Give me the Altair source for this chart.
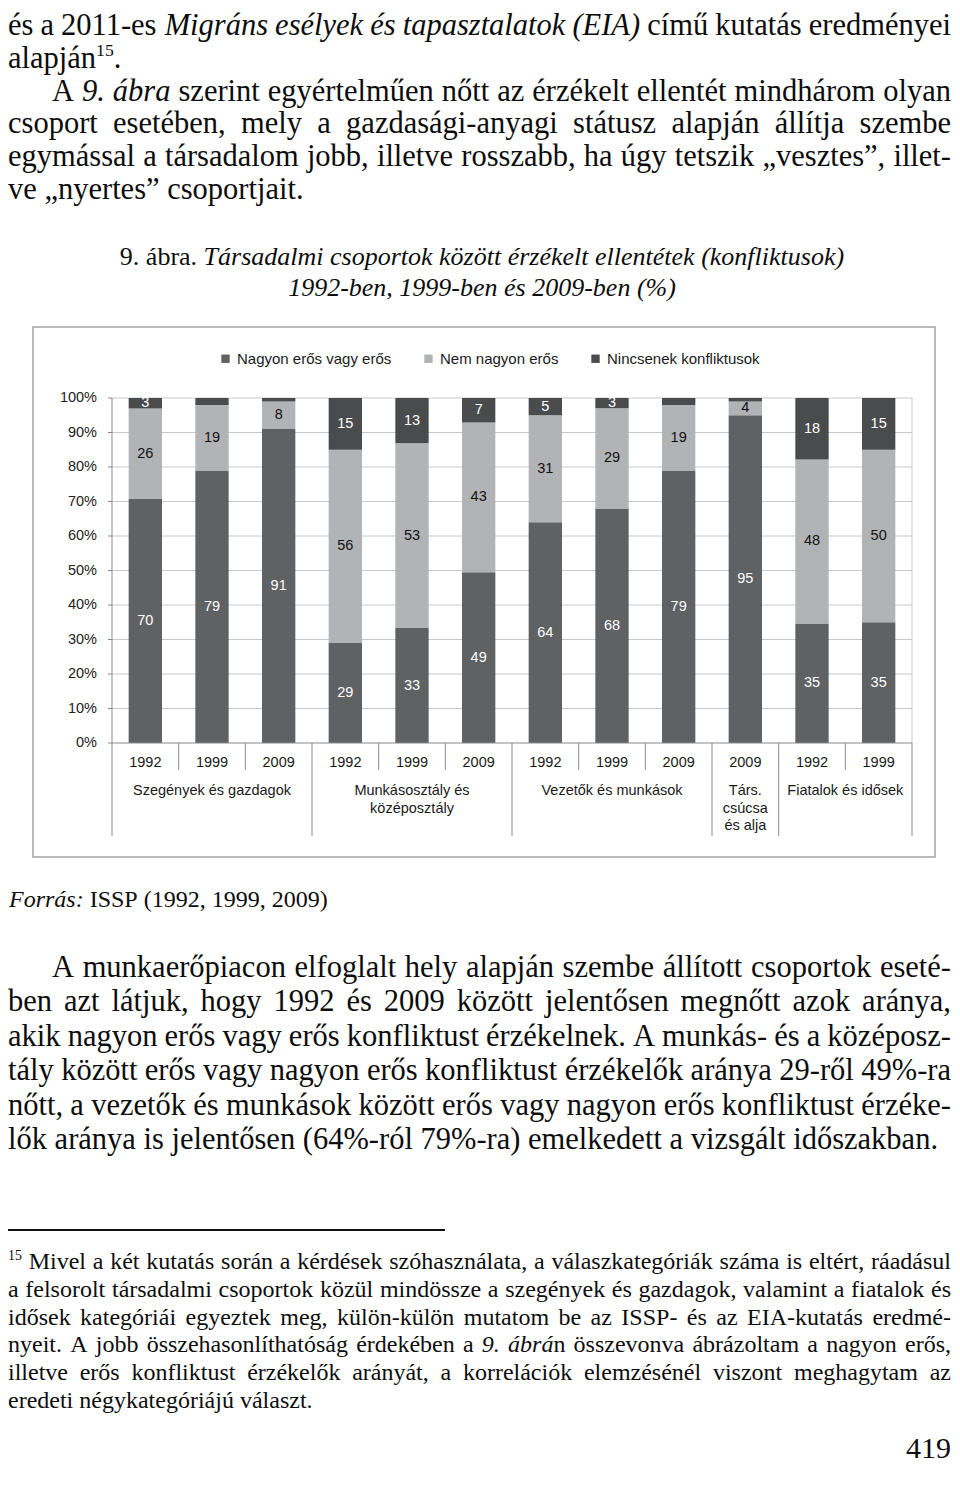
import unicodedata
import altair as alt
import pandas as pd

OFF = 8


def P(v):
    return v - OFF


# ------------------------------------------------------------------ chart data
years = ["1992", "1999", "2009", "1992", "1999", "2009", "1992", "1999", "2009", "2009", "1992", "1999"]
strong = [70, 79, 91, 29, 33, 49, 64, 68, 79, 95, 35, 35]      # Nagyon erős vagy erős
notvery = [26, 19, 8, 56, 53, 43, 31, 29, 19, 4, 48, 50]       # Nem nagyon erős
noconf = [3, 2, 1, 15, 13, 7, 5, 3, 2, 1, 18, 15]              # Nincsenek konfliktusok
series = ["Nagyon erős vagy erős", "Nem nagyon erős", "Nincsenek konfliktusok"]
series_colors = ["#606163", "#b2b3b5", "#4a4b4d"]
group_labels = ["Szegények és gazdagok", "Munkásosztály és\nközéposztály", "Vezetők és munkások",
                "Társ.\ncsúcsa\nés alja", "Fiatalok és idősek"]
group_sizes = [3, 3, 3, 1, 2]
ytick_values = [0, 0.1, 0.2, 0.3, 0.4, 0.5, 0.6, 0.7, 0.8, 0.9, 1.0]
ytick_labels = ["0%", "10%", "20%", "30%", "40%", "50%", "60%", "70%", "80%", "90%", "100%"]

# ------------------------------------------------------------------ page text
para1 = [
    ("és a 2011-es *Migráns esélyek és tapasztalatok (EIA)* című kutatás eredményei", "J", 0),
    ("alapján^15^.", "L", 0),
    ("A *9. ábra* szerint egyértelműen nőtt az érzékelt ellentét mindhárom olyan", "J", 44),
    ("csoport esetében, mely a gazdasági-anyagi státusz alapján állítja szembe", "J", 0),
    ("egymással a társadalom jobb, illetve rosszabb, ha úgy tetszik „vesztes”, illet-", "J", 0),
    ("ve „nyertes” csoportjait.", "L", 0),
]
caption = [
    ("9. ábra. *Társadalmi csoportok között érzékelt ellentétek (konfliktusok)*", "C", 0),
    ("*1992-ben, 1999-ben és 2009-ben (%)*", "C", 0),
]
source = [("*Forrás:* ISSP (1992, 1999, 2009)", "L", 0)]
para2 = [
    ("A munkaerőpiacon elfoglalt hely alapján szembe állított csoportok eseté-", "J", 44),
    ("ben azt látjuk, hogy 1992 és 2009 között jelentősen megnőtt azok aránya,", "J", 0),
    ("akik nagyon erős vagy erős konfliktust érzékelnek. A munkás- és a középosz-", "J", 0),
    ("tály között erős vagy nagyon erős konfliktust érzékelők aránya 29-ről 49%-ra", "J", 0),
    ("nőtt, a vezetők és munkások között erős vagy nagyon erős konfliktust érzéke-", "J", 0),
    ("lők aránya is jelentősen (64%-ról 79%-ra) emelkedett a vizsgált időszakban.", "L", 0),
]
footnote = [
    ("^15^ Mivel a két kutatás során a kérdések szóhasználata, a válaszkategóriák száma is eltért, ráadásul", "J", 0),
    ("a felsorolt társadalmi csoportok közül mindössze a szegények és gazdagok, valamint a fiatalok és", "J", 0),
    ("idősek kategóriái egyeztek meg, külön-külön mutatom be az ISSP- és az EIA-kutatás eredmé-", "J", 0),
    ("nyeit. A jobb összehasonlíthatóság érdekében a *9. ábrá*n összevonva ábrázoltam a nagyon erős,", "J", 0),
    ("illetve erős konfliktust érzékelők arányát, a korrelációk elemzésénél viszont meghagytam az", "J", 0),
    ("eredeti négykategóriájú választ.", "L", 0),
]
pagenum = [("419", "R", 0)]

# ------------------------------------------------------------------ font metrics (Times-compatible)
REG = dict(zip("abcdefghijklmnopqrstuvwxyz",
               [444, 500, 444, 500, 444, 333, 500, 500, 278, 278, 500, 278, 778, 500, 500, 500, 500, 333, 389, 278,
                500, 500, 722, 500, 500, 444]))
REG.update(zip("ABCDEFGHIJKLMNOPQRSTUVWXYZ",
               [722, 667, 667, 722, 611, 556, 722, 722, 333, 389, 722, 611, 889, 722, 722, 556, 722, 667, 556, 611,
                722, 722, 944, 722, 722, 611]))
REG.update({c: 500 for c in "0123456789"})
REG.update({" ": 250, ",": 250, ".": 250, "-": 333, ":": 278, "(": 333, ")": 333, "%": 833,
            "„": 444, "”": 444, "“": 444})
ITA = dict(zip("abcdefghijklmnopqrstuvwxyz",
               [500, 500, 444, 500, 444, 278, 500, 500, 278, 278, 444, 278, 722, 500, 500, 500, 500, 389, 389, 278,
                500, 444, 667, 444, 444, 389]))
ITA.update(zip("ABCDEFGHIJKLMNOPQRSTUVWXYZ",
               [611, 611, 667, 722, 611, 611, 722, 722, 333, 444, 667, 556, 833, 667, 722, 611, 722, 611, 500, 556,
                722, 611, 833, 611, 556, 556]))
ITA.update({c: 500 for c in "0123456789"})
ITA.update({" ": 250, ",": 250, ".": 250, "-": 333, ":": 333, "(": 333, ")": 333, "%": 833})
SUP = 0.58


def cw(ch, italic):
    tbl = ITA if italic else REG
    if ch in tbl:
        return tbl[ch]
    base = unicodedata.normalize("NFD", ch)[0]
    return tbl.get(base, 500)


def tw(s, italic, size):
    return sum(cw(c, italic) for c in s) * size / 1000.0


def parse(line):
    words, cur, buf = [], [], []
    state = {"it": False, "sup": False}

    def flush():
        if buf:
            st = "s" if state["sup"] else ("i" if state["it"] else "n")
            cur.append(("".join(buf), st))
            buf.clear()

    for ch in line:
        if ch == "*":
            flush()
            state["it"] = not state["it"]
        elif ch == "^":
            flush()
            state["sup"] = not state["sup"]
        elif ch == " ":
            flush()
            if cur:
                words.append(list(cur))
                cur.clear()
        else:
            buf.append(ch)
    flush()
    if cur:
        words.append(list(cur))
    return words


def layout_block(lines, size, left, right, y0, dy, center=None):
    recs = []
    sp = REG[" "] * size / 1000.0

    def pw(piece):
        t, st = piece
        if st == "s":
            return tw(t, False, size * SUP)
        return tw(t, st == "i", size)

    for li, (text, mode, indent) in enumerate(lines):
        y = y0 + li * dy
        words = parse(text)
        wws = [sum(pw(p) for p in w) for w in words]
        total = sum(wws)
        L = left + indent
        if mode == "J" and len(words) > 1:
            gap = (right - L - total) / (len(words) - 1)
            x = L
        elif mode == "C":
            gap = sp
            x = center - (total + sp * (len(words) - 1)) / 2
        elif mode == "R":
            gap = sp
            x = right - (total + sp * (len(words) - 1))
        else:
            gap = sp
            x = L
        for wi, w in enumerate(words):
            last = mode in ("J", "R") and wi == len(words) - 1 and len(w) == 1
            xx = x
            for p in w:
                t, st = p
                fs = size * SUP if st == "s" else size
                yy = y - size * 0.24 if st == "s" else y
                if last:
                    recs.append(dict(x=P(right), y=P(yy), t=t, fs=round(fs, 2), it=(st == "i"), al="right"))
                else:
                    recs.append(dict(x=P(xx), y=P(yy), t=t, fs=round(fs, 2), it=(st == "i"), al="left"))
                xx += pw(p)
            x += wws[wi] + gap
    return recs


LEFT, RIGHT = 8, 951
recs = []
recs += layout_block(para1, 30.5, LEFT, RIGHT, 26, 32.8)
recs += layout_block(caption, 26, LEFT, RIGHT, 257, 31, center=482)
recs += layout_block(source, 24, 9, RIGHT, 900, 30)
recs += layout_block(para2, 30.5, LEFT, RIGHT, 968, 34.4)
recs += layout_block(footnote, 24, LEFT, RIGHT, 1262, 27.8)
recs += layout_block(pagenum, 30, LEFT, RIGHT, 1449, 30)
text_df = pd.DataFrame(recs)

layers = []
for (fs, it, al), g in text_df.groupby(["fs", "it", "al"]):
    layers.append(
        alt.Chart(g[["x", "y", "t"]].reset_index(drop=True)).mark_text(
            font="Liberation Serif", fontSize=float(fs), fontStyle="italic" if bool(it) else "normal",
            align=al, baseline="middle", color="#0d0d0d"
        ).encode(
            x=alt.X("x:Q", scale=None, axis=None),
            y=alt.Y("y:Q", scale=None, axis=None),
            text="t:N",
        )
    )

# footnote separator line
one = pd.DataFrame({"a": [0]})
layers.append(alt.Chart(one).mark_rule(color="#111111", strokeWidth=1.8).encode(
    x=alt.value(P(8)), x2=alt.value(P(445)), y=alt.value(P(1230))))

# ------------------------------------------------------------------ chart
XS = alt.Scale(domain=[0, 12], range=[P(112), P(912)], nice=False, zero=False)
YS = alt.Scale(domain=[0, 1], range=[P(743), P(398)], nice=False, zero=False)
CH_FONT = "Liberation Sans"
AX_COL = "#8a8a8a"
GRID_COL = "#c8c8c8"

# frame
layers.append(alt.Chart(one).mark_rect(fillOpacity=0, stroke="#a3a3a3", strokeWidth=1.5).encode(
    x=alt.value(P(33)), x2=alt.value(P(935)), y=alt.value(P(327)), y2=alt.value(P(857))))

grid_df = pd.DataFrame({"v": ytick_values, "lab": ytick_labels, "x0": 0, "x1": 12})
layers.append(alt.Chart(grid_df).transform_filter("datum.v > 0").mark_rule(color=GRID_COL, strokeWidth=1).encode(
    x=alt.X("x0:Q", scale=XS, axis=None), x2="x1:Q", y=alt.Y("v:Q", scale=YS, axis=None)))
layers.append(alt.Chart(grid_df).mark_rule(color=AX_COL, strokeWidth=1).encode(
    x=alt.value(P(108)), x2=alt.value(P(112)), y=alt.Y("v:Q", scale=YS, axis=None)))
layers.append(alt.Chart(grid_df).mark_text(align="right", baseline="middle", font=CH_FONT, fontSize=14.5,
                                           color="#222222").encode(
    x=alt.value(P(97)), y=alt.Y("v:Q", scale=YS, axis=None), text="lab:N"))

# category separators
bounds = list(range(13))
gb = [0]
for s in group_sizes:
    gb.append(gb[-1] + s)
sep_df = pd.DataFrame({"b": bounds, "grp": [b in gb for b in bounds]})
layers.append(alt.Chart(sep_df).transform_filter("datum.grp").mark_rule(color=AX_COL, strokeWidth=1).encode(
    x=alt.X("b:Q", scale=XS, axis=None), y=alt.value(P(743)), y2=alt.value(P(836))))
layers.append(alt.Chart(sep_df).transform_filter("!datum.grp").mark_rule(color=AX_COL, strokeWidth=1).encode(
    x=alt.X("b:Q", scale=XS, axis=None), y=alt.value(P(743)), y2=alt.value(P(770))))
# plot-area vertical borders
vb_df = pd.DataFrame({"b": [0, 12], "y0": [0, 0], "y1": [1, 1], "c": [AX_COL, GRID_COL]})
layers.append(alt.Chart(vb_df).mark_rule(strokeWidth=1).encode(
    x=alt.X("b:Q", scale=XS, axis=None), y=alt.Y("y0:Q", scale=YS, axis=None), y2="y1:Q",
    color=alt.Color("c:N", scale=None)))

# stacked bars
rows = []
for i in range(len(years)):
    for k, vals in enumerate([strong, notvery, noconf]):
        rows.append(dict(bar=i, year=years[i], series=series[k], order=k, value=vals[i]))
bars_df = pd.DataFrame(rows)

base = alt.Chart(bars_df).transform_stack(
    stack="value", groupby=["bar"], sort=[alt.SortField("order", order="ascending")],
    offset="normalize", as_=["s0", "s1"]
).transform_calculate(
    x0="datum.bar + 0.25", x1="datum.bar + 0.75", xm="datum.bar + 0.5", ym="(datum.s0 + datum.s1) / 2"
)
layers.append(base.mark_rect().encode(
    x=alt.X("x0:Q", scale=XS, axis=None), x2="x1:Q",
    y=alt.Y("s0:Q", scale=YS, axis=None), y2="s1:Q",
    color=alt.Color("series:N", scale=alt.Scale(domain=series, range=series_colors),
                    legend=alt.Legend(orient="none", legendX=P(218), legendY=P(351), direction="horizontal",
                                      title=None, symbolType="square", symbolSize=70, symbolStrokeWidth=0,
                                      labelFont=CH_FONT, labelFontSize=15, labelColor="#1a1a1a",
                                      columnPadding=29, labelOffset=4, padding=0)),
))
# x-axis baseline
layers.append(alt.Chart(grid_df).transform_filter("datum.v == 0").mark_rule(color=AX_COL, strokeWidth=1).encode(
    x=alt.X("x0:Q", scale=XS, axis=None), x2="x1:Q", y=alt.Y("v:Q", scale=YS, axis=None)))
layers.append(base.transform_filter("datum.value >= 3").mark_text(
    font=CH_FONT, fontSize=14.5, baseline="middle").encode(
    x=alt.X("xm:Q", scale=XS, axis=None), y=alt.Y("ym:Q", scale=YS, axis=None), text="value:Q",
    color=alt.condition("datum.order == 1", alt.value("#111111"), alt.value("#ffffff"))))

# year labels
yr_df = pd.DataFrame({"xm": [i + 0.5 for i in range(len(years))], "year": years})
layers.append(alt.Chart(yr_df).mark_text(font=CH_FONT, fontSize=14.5, baseline="middle", color="#1a1a1a").encode(
    x=alt.X("xm:Q", scale=XS, axis=None), y=alt.value(P(763)), text="year:N"))
# group labels
gc = [(gb[i] + gb[i + 1]) / 2 for i in range(len(group_sizes))]
gr_df = pd.DataFrame({"xm": gc, "lab": group_labels})
layers.append(alt.Chart(gr_df).mark_text(font=CH_FONT, fontSize=14.5, baseline="top", lineBreak="\n",
                                         lineHeight=17.5, color="#1a1a1a").encode(
    x=alt.X("xm:Q", scale=XS, axis=None), y=alt.value(P(784)), text="lab:N"))

chart = alt.layer(*layers).properties(
    width=944, height=1466, autosize=alt.AutoSizeParams(type="none"), padding=0, background="white"
).resolve_scale(x="independent", y="independent").configure_view(stroke=None)

chart.save("out.html", embed_options={"renderer": "svg", "actions": False})
